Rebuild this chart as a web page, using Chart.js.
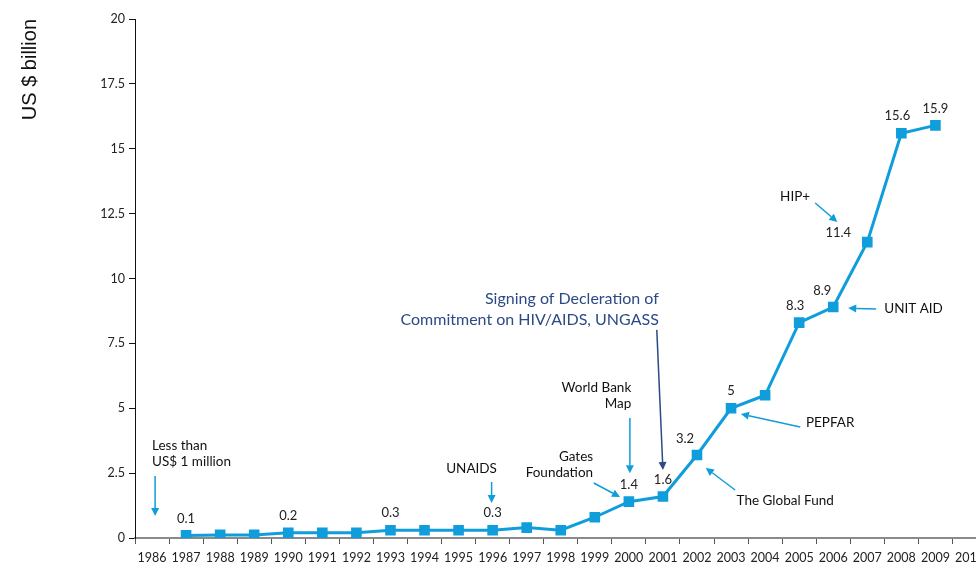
<!DOCTYPE html>
<html>
<head>
<meta charset="utf-8">
<script src="https://cdn.jsdelivr.net/npm/chart.js@4"></script>
<style>
  html, body { margin: 0; padding: 0; background: #fff; overflow: hidden; }
  #wrap { width: 994px; height: 563px; }
</style>
</head>
<body>
<div id="wrap"><canvas id="fundChart" width="994" height="563"></canvas></div>
<script>
// years on the x axis
const years = ["1986","1987","1988","1989","1990","1991","1992","1993","1994","1995","1996","1997",
               "1998","1999","2000","2001","2002","2003","2004","2005","2006","2007","2008","2009","2010"];
// US$ billion
const funding = [null, 0.1, 0.12, 0.12, 0.2, 0.2, 0.2, 0.3, 0.3, 0.3, 0.3, 0.4,
                 0.3, 0.8, 1.4, 1.6, 3.2, 5, 5.5, 8.3, 8.9, 11.4, 15.6, 15.9, null];
// labels written beside the points
const valueLabels = [null, "0.1", null, null, "0.2", null, null, "0.3", null, null, "0.3", null,
                     null, null, "1.4", "1.6", "3.2", "5", null, "8.3", "8.9", "11.4", "15.6", "15.9", null];
const yTicks = [0, 2.5, 5, 7.5, 10, 12.5, 15, 17.5, 20];

const BLUE = "#0f9ddb";
const NAVY = "#2c4a86";

// label shifts (px) where the label is not just above the point
const labelShift = { 16: [-12, -16], 20: [-11, -16], 21: [-29, -9], 22: [-4, -17], 19: [-4, -17] };

// notes: text lines + arrow, positions in chart units (category index, value)
const notes = [
    { lines: ["Less than", "US$ 1 million"], at: [0, 3.55], align: "left", arrow: [[0.09, 2.39], [0.09, 0.85]] },
    { lines: ["UNAIDS"], at: [9.38, 2.66], arrow: [[9.97, 2.16], [9.97, 1.35]] },
    { lines: ["Gates", "Foundation"], at: [12.95, 3.12], align: "right", arrow: [[12.97, 2.12], [13.74, 1.58]] },
    { lines: ["World Bank", "Map"], at: [14.07, 5.78], align: "right", arrow: [[14.03, 4.62], [14.03, 2.5]] },
    { lines: ["Signing of Decleration of", "Commitment on HIV/AIDS, UNGASS"], at: [14.88, 9.21], align: "right",
      size: 16, gap: 21, color: NAVY, arrow: [[14.82, 8.02], [15.0, 2.62]] },
    { lines: ["The Global Fund"], at: [18.59, 1.43], arrow: [[17.12, 1.85], [16.26, 2.7]] },
    { lines: ["PEPFAR"], at: [19.91, 4.43], arrow: [[19.03, 4.28], [17.29, 4.78]] },
    { lines: ["UNIT AID"], at: [21.38, 8.82], align: "left", arrow: [[21.26, 8.82], [20.44, 8.86]] },
    { lines: ["HIP+"], at: [18.88, 13.14], arrow: [[19.47, 12.91], [20.12, 12.18]] }
];

function drawArrow(ctx, x1, y1, x2, y2, color) {
    const a = Math.atan2(y2 - y1, x2 - x1);
    const head = 8, half = 4;
    ctx.strokeStyle = color;
    ctx.fillStyle = color;
    ctx.lineWidth = 1.5;
    ctx.beginPath();
    ctx.moveTo(x1, y1);
    ctx.lineTo(x2 - head * Math.cos(a), y2 - head * Math.sin(a));
    ctx.stroke();
    ctx.beginPath();
    ctx.moveTo(x2, y2);
    ctx.lineTo(x2 - head * Math.cos(a) + half * Math.sin(a), y2 - head * Math.sin(a) - half * Math.cos(a));
    ctx.lineTo(x2 - head * Math.cos(a) - half * Math.sin(a), y2 - head * Math.sin(a) + half * Math.cos(a));
    ctx.closePath();
    ctx.fill();
}

const notesPlugin = {
    id: "notes",
    afterDatasetsDraw(chart) {
        const { ctx, scales: { x, y } } = chart;
        const px = i => x.getPixelForValue(i);
        const py = v => y.getPixelForValue(v);
        ctx.save();
        // point labels
        ctx.font = "13px Lato, sans-serif";
        ctx.fillStyle = "#222";
        ctx.textAlign = "center";
        ctx.textBaseline = "middle";
        valueLabels.forEach((t, i) => {
            if (!t) return;
            const s = labelShift[i] || [0, -17];
            ctx.fillText(t, px(i) + s[0], py(funding[i]) + s[1]);
        });
        // annotations
        notes.forEach(n => {
            const size = n.size || 13.5;
            const gap = n.gap || 16;
            ctx.font = size + "px Lato, sans-serif";
            ctx.fillStyle = n.color || "#111";
            ctx.textAlign = n.align || "center";
            n.lines.forEach((line, k) => {
                ctx.fillText(line, px(n.at[0]) + (n.align === "left" && n.lines.length === 1 ? 4 : 0), py(n.at[1]) + k * gap);
            });
            const [p1, p2] = n.arrow;
            drawArrow(ctx, px(p1[0]), py(p1[1]), px(p2[0]), py(p2[1]), n.color || BLUE);
        });
        ctx.restore();
    }
};

new Chart(document.getElementById("fundChart"), {
    type: "line",
    data: {
        labels: years,
        datasets: [{
            data: funding,
            borderColor: BLUE,
            backgroundColor: BLUE,
            borderWidth: 3,
            pointStyle: "rect",
            pointRadius: 7.5,
            pointBorderWidth: 0,
            pointBackgroundColor: BLUE,
            tension: 0,
            spanGaps: false
        }]
    },
    options: {
        responsive: false,
        animation: false,
        layout: { padding: { top: 19, right: 0, bottom: 0, left: 0 } },
        plugins: {
            legend: { display: false },
            tooltip: { enabled: false }
        },
        scales: {
            x: {
                offset: true,
                grid: { offset: true, drawOnChartArea: false, drawTicks: true, tickLength: 6, color: "#555" },
                border: { display: true, color: "#8a8a8a", width: 2 },
                ticks: {
                    color: "#222", font: { family: "Lato", size: 12.5 }, padding: 6,
                    maxRotation: 0, autoSkip: false
                },
                afterFit: scale => { scale.height = 25; }
            },
            y: {
                min: 0,
                max: 20,
                afterBuildTicks: scale => { scale.ticks = yTicks.map(v => ({ value: v })); },
                grid: { drawOnChartArea: false, drawTicks: true, tickLength: 6, color: "#111" },
                border: { display: true, color: "#111", width: 1 },
                ticks: { color: "#222", font: { family: "Lato", size: 12.5 }, padding: 4 },
                title: {
                    display: true,
                    text: "US $ billion",
                    align: "end",
                    color: "#111",
                    font: { family: "Liberation Sans", size: 20 },
                    padding: { top: 18, bottom: 0 }
                },
                afterFit: scale => { scale.width = 135; }
            }
        }
    },
    plugins: [notesPlugin]
});
</script>
</body>
</html>
